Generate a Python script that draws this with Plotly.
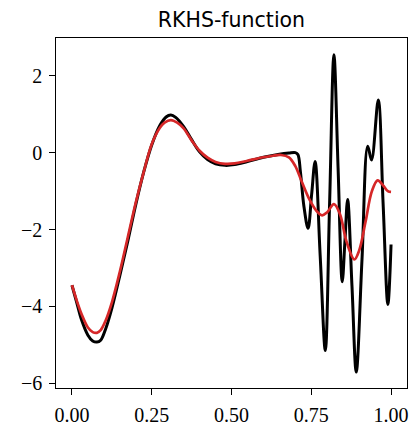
import plotly.graph_objects as go

# True RKHS function (black)
x_true = [0, 0.015, 0.03, 0.05, 0.065, 0.078, 0.09, 0.105, 0.125, 0.15, 0.175, 0.2, 0.225, 0.25,
          0.275, 0.295, 0.31, 0.325, 0.35, 0.375, 0.40, 0.425, 0.45, 0.48, 0.51, 0.55, 0.60, 0.65,
          0.68, 0.70, 0.708, 0.716, 0.727, 0.74, 0.751, 0.762, 0.778, 0.794, 0.8075, 0.821, 0.834,
          0.847, 0.8555, 0.864, 0.8775, 0.891, 0.909, 0.927, 0.939, 0.960, 0.975, 0.990, 1.0]
y_true = [-3.45, -3.9, -4.35, -4.75, -4.9, -4.93, -4.88, -4.6, -4.05, -3.2, -2.3, -1.35, -0.5, 0.2,
          0.7, 0.93, 0.98, 0.92, 0.68, 0.34, 0.02, -0.18, -0.29, -0.33, -0.31, -0.23, -0.12, -0.04,
          -0.01, 0.0, -0.05, -0.5, -1.4, -1.97, -1.1, -0.23, -2.7, -5.15, -1.3, 2.55, -0.4,
          -3.36, -2.3, -1.22, -3.46, -5.71, -2.77, 0.17, -0.19, 1.37, -1.3, -3.95, -2.39]

# Estimate (red)
x_fit = [0, 0.015, 0.03, 0.05, 0.065, 0.078, 0.09, 0.105, 0.125, 0.15, 0.175, 0.2, 0.225, 0.25,
         0.275, 0.29, 0.31, 0.33, 0.35, 0.375, 0.40, 0.425, 0.45, 0.48, 0.51, 0.55, 0.60, 0.63,
         0.655, 0.68, 0.70, 0.72, 0.745, 0.765, 0.784, 0.80, 0.821, 0.84, 0.86, 0.885, 0.90,
         0.92, 0.94, 0.958, 0.975, 0.99, 1.0]
y_fit = [-3.45, -3.85, -4.2, -4.55, -4.67, -4.69, -4.62, -4.38, -3.9, -3.1, -2.2, -1.3, -0.5, 0.22,
         0.64, 0.78, 0.85, 0.78, 0.63, 0.32, 0.05, -0.13, -0.24, -0.29, -0.28, -0.21, -0.12, -0.08,
         -0.06, -0.12, -0.35, -0.75, -1.23, -1.5, -1.63, -1.55, -1.34, -1.6, -2.3, -2.78, -2.55,
         -1.8, -1.0, -0.72, -0.85, -1.0, -1.02]

x_ticks = [0.0, 0.25, 0.5, 0.75, 1.0]
x_tick_labels = ["0.00", "0.25", "0.50", "0.75", "1.00"]
y_ticks = [-6, -4, -2, 0, 2]
y_tick_labels = ["\u22126", "\u22124", "\u22122", "0", "2"]

fig = go.Figure()
fig.add_trace(go.Scatter(x=x_true, y=y_true, mode="lines",
                         line=dict(color="black", width=3, shape="spline", smoothing=1.0),
                         showlegend=False, hoverinfo="skip"))
fig.add_trace(go.Scatter(x=x_fit, y=y_fit, mode="lines",
                         line=dict(color="#d62728", width=2.7, shape="spline", smoothing=1.0),
                         showlegend=False, hoverinfo="skip"))

axis_common = dict(showline=True, linecolor="black", linewidth=1.3, mirror=True,
                   ticks="outside", ticklen=5.5, tickwidth=1.3, tickcolor="black",
                   showgrid=False, zeroline=False, ticklabelstandoff=3, automargin=False,
                   tickfont=dict(family="Liberation Serif", size=20, color="black"))

fig.update_layout(
    width=413, height=426,
    margin=dict(l=56, r=6, t=38, b=38),
    plot_bgcolor="white", paper_bgcolor="white",
    title=dict(text="RKHS-function", x=0.5, xanchor="center", xref="paper",
               y=1 - 27 / 426, yanchor="bottom",
               font=dict(family="DejaVu Sans", size=20.5, color="black")),
    xaxis=dict(range=[-0.05, 1.05], tickvals=x_ticks, ticktext=x_tick_labels, **axis_common),
    yaxis=dict(range=[-6.125, 2.985], tickvals=y_ticks, ticktext=y_tick_labels, **axis_common),
)

fig.write_html("out.html")
